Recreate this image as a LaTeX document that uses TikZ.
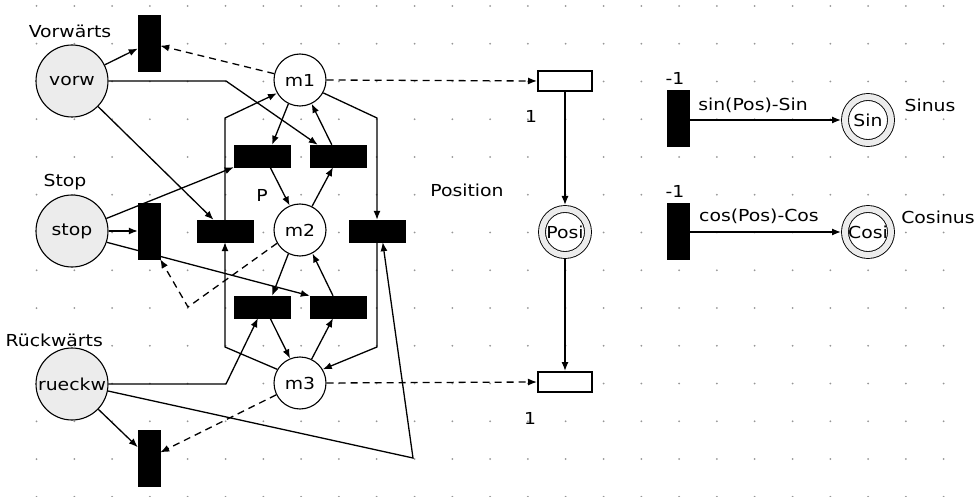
\documentclass[tikz,border=0pt]{standalone}
\usepackage{fontspec}
\setmainfont{DejaVu Sans}[FakeStretch=1.14]
\usetikzlibrary{arrows.meta,backgrounds}
\definecolor{dotc}{RGB}{150,150,150}
\definecolor{plfill}{RGB}{236,236,236}
\begin{document}
\begin{tikzpicture}[x=1pt,y=-1pt,font=\fontsize{16.5}{19}\selectfont,
  pl/.style={circle, draw, line width=1.1pt, fill=white, minimum size=52pt, inner sep=0pt},
  bigpl/.style={pl, minimum size=72pt, fill=plfill},
  cpl/.style={circle, draw, line width=0.9pt, double=plfill, double distance=6pt, fill=white, minimum size=46pt, inner sep=0pt, outer sep=4pt},
  ht/.style={rectangle, draw, fill=black, minimum width=56pt, minimum height=22pt, inner sep=0pt},
  vt/.style={rectangle, draw, fill=black, minimum width=22pt, minimum height=56pt, inner sep=0pt},
  wt/.style={rectangle, draw, line width=2pt, fill=white, minimum width=54pt, minimum height=20pt, inner sep=0pt},
  arc/.style={line width=1.3pt, -{Latex[length=9pt,width=7pt]}},
  darc/.style={arc, dash pattern=on 7pt off 5pt},
  lbl/.style={inner sep=0pt}]
\useasboundingbox (0,0) rectangle (980,497);
% places
\node[bigpl] (vorw) at (72,81) {vorw};
\node[bigpl] (stop) at (72,231) {stop};
\node[bigpl] (rueckw) at (72,384) {rueckw};
\node[pl] (m1) at (300,80) {m1};
\node[pl] (m2) at (300,230) {m2};
\node[pl] (m3) at (300,383) {m3};
\node[cpl] (posi) at (565,232) {Posi};
\node[cpl] (sin) at (868,120) {Sin};
\node[cpl] (cosi) at (868,232) {Cosi};
% transitions
\node[vt] (tv) at (149,43) {};
\node[vt] (ts) at (149,231) {};
\node[vt] (tr) at (149,458) {};
\node[ht] (tul) at (262,156) {};
\node[ht] (tur) at (338,156) {};
\node[ht] (tml) at (225,231) {};
\node[ht] (tmr) at (377,231) {};
\node[ht] (tll) at (262,307) {};
\node[ht] (tlr) at (338,307) {};
\node[wt] (tpt) at (565,81) {};
\node[wt] (tpb) at (565,382) {};
\node[vt] (tsin) at (678,118) {};
\node[vt] (tcos) at (678,231) {};
% labels
\node[lbl] (lvorw) at (70,31) {Vorwärts};
\node[lbl] (lstop) at (65,182) {Stop};
\node[lbl, anchor=east] (lrueck) at (103,340) {Rückwärts};
\node[lbl] (lP) at (262,195) {P};
\node[lbl] (lpos) at (467,190) {Position};
\node[lbl] (l1a) at (531,116) {1};
\node[lbl] (l1b) at (530,418) {1};
\node[lbl] (lm1a) at (675,78) {-1};
\node[lbl] (lm1b) at (675,191) {-1};
\node[lbl] (lsinf) at (753,105) {sin(Pos)-Sin};
\node[lbl] (lsinus) at (930,105) {Sinus};
\node[lbl] (lcosf) at (759,216) {cos(Pos)-Cos};
\node[lbl] (lcosinus) at (938,217) {Cosinus};
% bend points
\coordinate (b5) at (377,118);
\coordinate (b5b) at (377,347);
\coordinate (b6) at (225,118);
\coordinate (b6b) at (225,347);
\coordinate (b12) at (226,81);
\coordinate (b16) at (188,307);
\coordinate (b17) at (226,384);
\coordinate (b20) at (413,458);
\begin{pgfonlayer}{background}
\foreach \i in {0,...,24} \foreach \j in {0,...,13}
  \fill[dotc] ({36.5+37.8*\i},{6+37.75*\j}) circle (1pt);
% arcs
\draw[arc] (vorw) -- (tv);
\draw[darc] (m1) -- (tv);
\draw[arc] (m1.244) -- (tul.48);
\draw[arc] (tur.119) -- (m1.296);
\draw[arc] (tul.306) -- (m2.113);
\draw[arc] (m2.63) -- (tur.246);
\draw[arc] (m2.244) -- (tll.48);
\draw[arc] (tlr.114) -- (m2.298);
\draw[arc] (tll.306) -- (m3.112);
\draw[arc] (m3.64) -- (tlr.246);
\draw[arc] (m1.331) -- (b5) -- (tmr.north);
\draw[arc] (tml.north) -- (b6) -- (m1.210);
\draw[arc] (m3.149) -- (b6b) -- (tml.south);
\draw[arc] (tmr.south) -- (b5b) -- (m3.31);
\draw[arc] (vorw) -- (tml);
\draw[arc] (vorw.east) -- (b12) -- (tur.151);
\draw[arc] (stop.20) -- (tul.south west);
\draw[arc] (stop) -- (ts);
\draw[arc] (stop.342) -- (tlr.north west);
\draw[darc] (m2.210) -- (b16) -- (ts.south east);
\draw[arc] (rueckw.east) -- (b17) -- (tll.250);
\draw[arc] (rueckw) -- (tr);
\draw[darc] (m3) -- (tr);
\draw[arc] (rueckw.349) -- (b20) -- (tmr.297);
\draw[darc] (m1.east) -- (tpt.west);
\draw[darc] (m3.east) -- (tpb.west);
\draw[arc] (tpt) -- (posi);
\draw[arc] (posi) -- (tpb);
\draw[arc] (tsin.east |- sin.west) -- (sin.west);
\draw[arc] (tcos.east |- cosi.west) -- (cosi.west);
\end{pgfonlayer}
\end{tikzpicture}
\end{document}
